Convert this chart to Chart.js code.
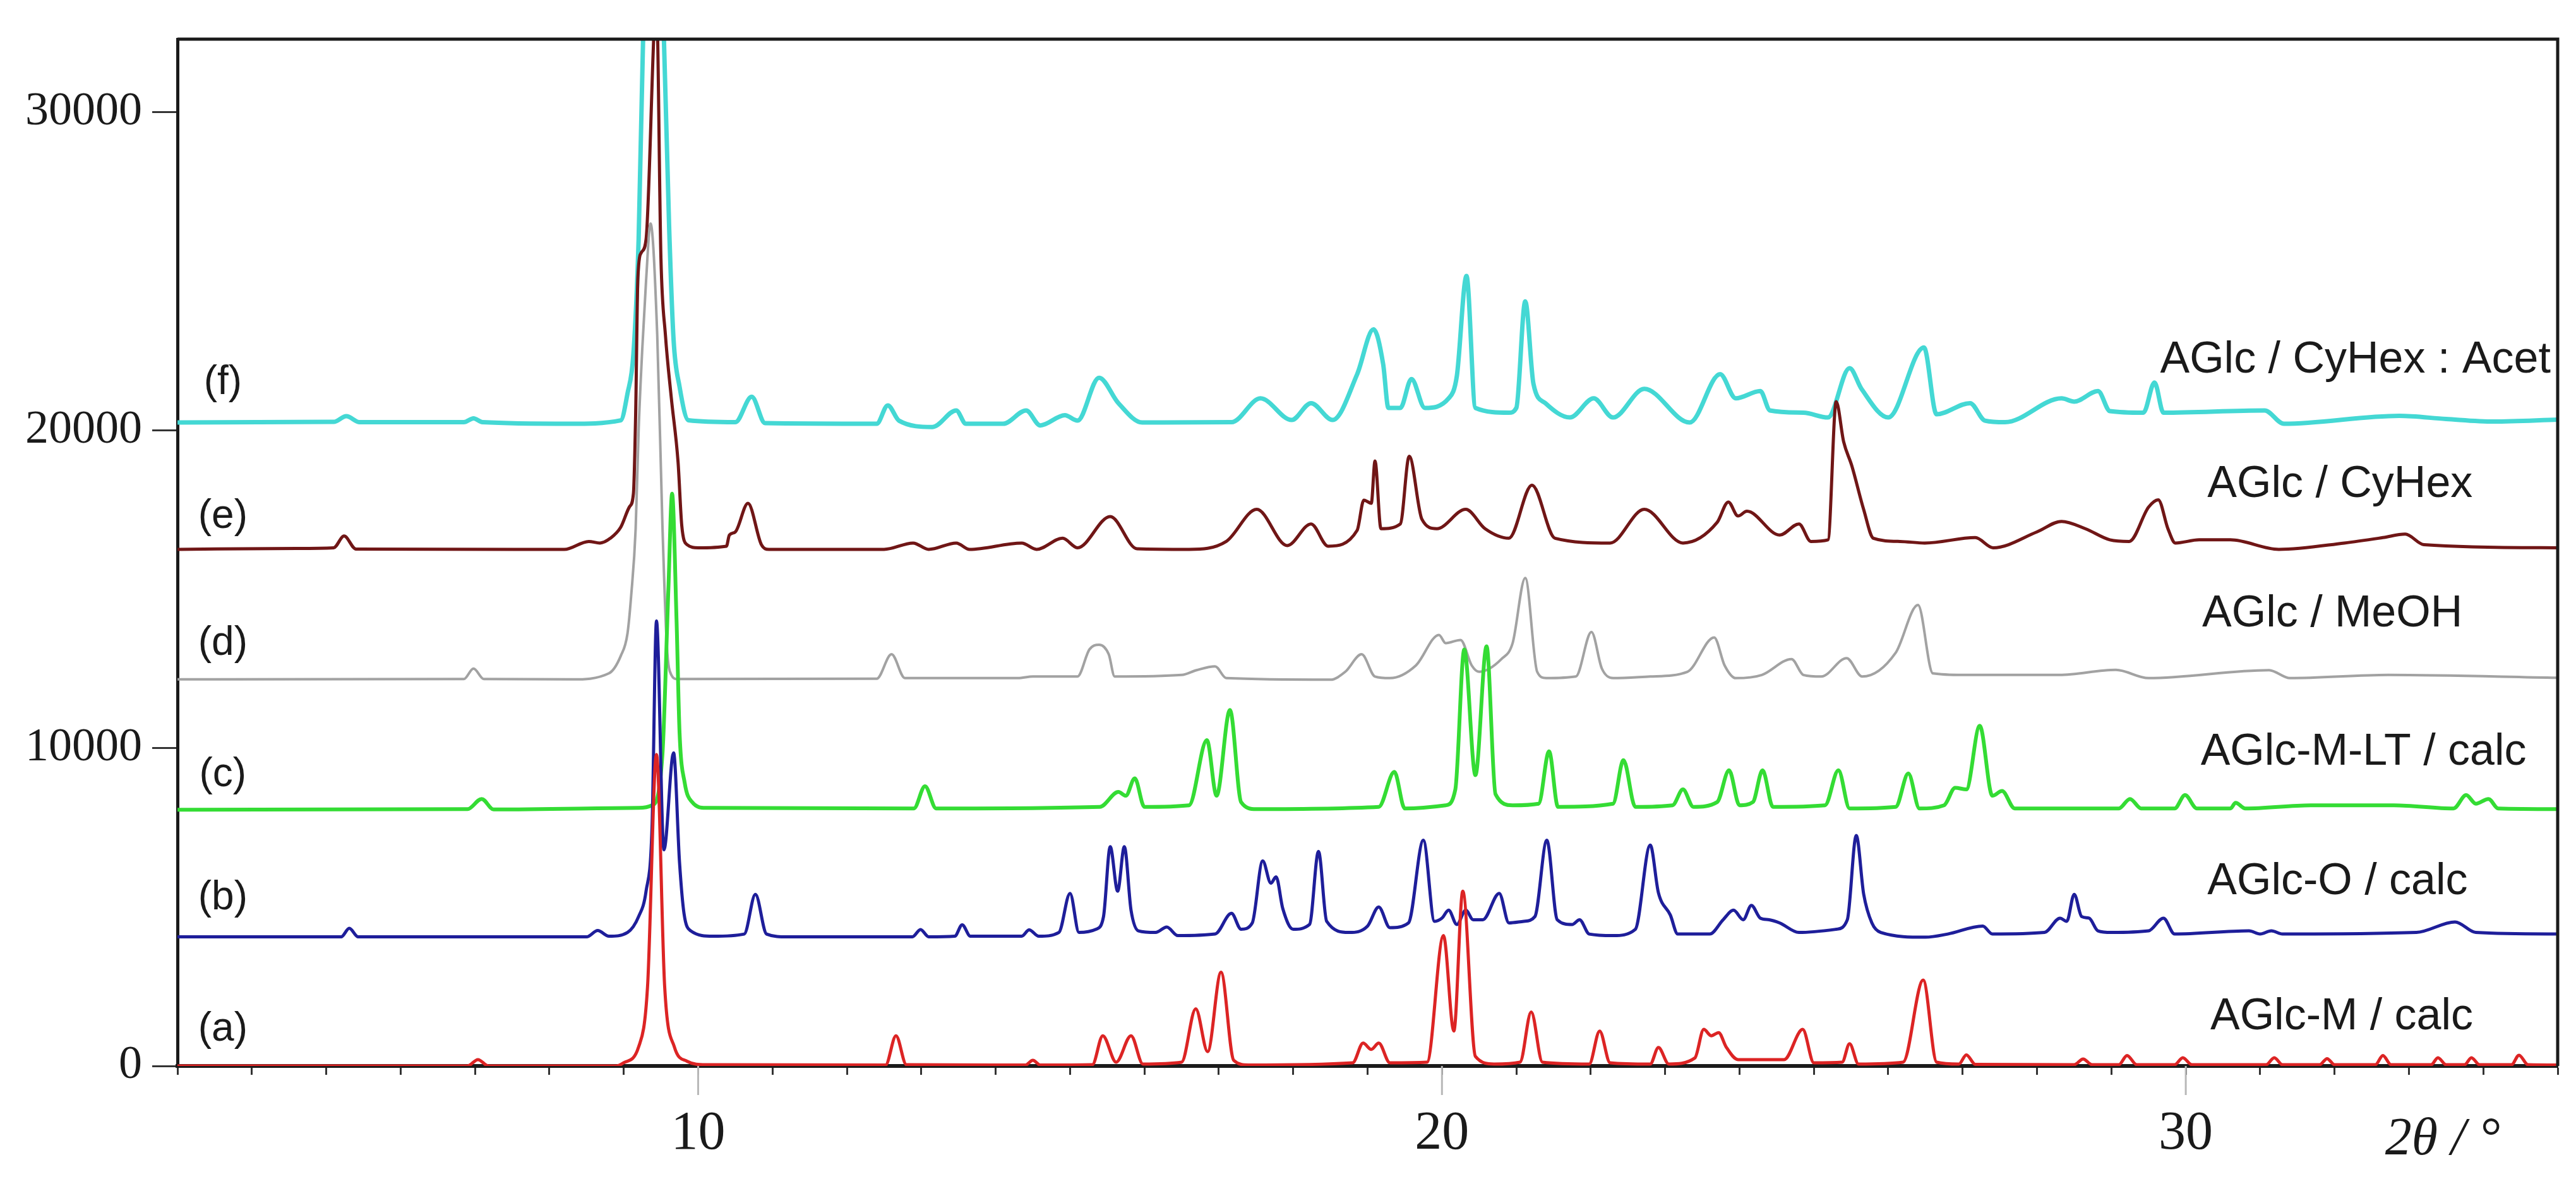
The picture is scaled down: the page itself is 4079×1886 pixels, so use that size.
<!DOCTYPE html>
<html>
<head>
<meta charset="utf-8">
<title>PXRD patterns</title>
<script src="https://cdn.jsdelivr.net/npm/chart.js@4.4.1/dist/chart.umd.min.js"></script>
<style>
  html, body { margin: 0; padding: 0; background: #fff; }
  #wrap { width: 4079px; height: 1886px; }
</style>
</head>
<body>
<div id="wrap"><canvas id="chart" width="4079" height="1886"></canvas></div>
<script>
// --- Data: [2theta, intensity] ---

// (a) AGlc-M / calc
const AGLC_M = [
  [3,0],[6.9,0],[7.04,200],[7.18,0],[8.9,0],[9.0,100],[9.2,600],[9.32,2500],[9.44,9800],[9.55,2500],
  [9.68,600],[9.85,150],[10.1,40],[12.52,30],[12.66,950],[12.8,40],[14.4,30],[14.5,180],[14.6,30],
  [15.3,40],[15.44,950],[15.62,120],[15.82,950],[15.98,60],[16.5,120],[16.69,1800],[16.85,450],
  [17.03,2950],[17.2,180],[17.4,30],[18.8,100],[18.94,720],[19.05,520],[19.15,720],[19.3,100],
  [19.8,120],[20.02,4100],[20.16,1100],[20.28,5500],[20.45,300],[20.7,60],[21.05,120],[21.2,1700],
  [21.35,120],[21.98,60],[22.12,1100],[22.26,100],[22.8,60],[22.91,580],[23.05,60],[23.4,250],
  [23.52,1150],[23.62,950],[23.72,1050],[23.82,600],[23.98,200],[24.6,200],[24.85,1150],[25.0,100],
  [25.38,120],[25.48,700],[25.6,60],[26.2,120],[26.47,2700],[26.65,120],[26.95,60],[27.05,350],
  [27.17,50],[28.5,40],[28.62,220],[28.74,40],[29.1,40],[29.21,330],[29.34,40],[29.85,40],[29.96,260],
  [30.08,40],[31.08,40],[31.19,260],[31.3,40],[31.8,40],[31.9,230],[32.0,40],[32.55,40],[32.65,330],
  [32.76,40],[33.3,40],[33.39,260],[33.5,40],[33.75,40],[33.84,260],[33.95,40],[34.38,40],[34.48,340],
  [34.6,40],[35,30]
];

// (b) AGlc-O / calc
const AGLC_O = [
  [3,4060],[5.2,4060],[5.31,4330],[5.43,4060],[8.5,4060],[8.65,4260],[8.8,4080],[9.05,4200],[9.2,4700],
  [9.3,5500],[9.38,7500],[9.44,14000],[9.54,6800],[9.67,9850],[9.75,6400],[9.81,4800],[9.9,4250],
  [10.2,4080],[10.62,4150],[10.77,5400],[10.92,4150],[11.2,4060],[12.88,4060],[12.99,4290],[13.1,4060],
  [13.45,4080],[13.55,4440],[13.66,4080],[14.35,4080],[14.45,4280],[14.58,4080],[14.85,4200],[15.0,5430],
  [15.12,4200],[15.35,4300],[15.45,4700],[15.54,6900],[15.64,5500],[15.73,6900],[15.82,4900],[15.92,4250],
  [16.15,4200],[16.3,4370],[16.45,4100],[16.95,4150],[17.17,4800],[17.3,4300],[17.45,4500],[17.59,6450],
  [17.7,5750],[17.77,5950],[17.86,4950],[18.0,4300],[18.22,4450],[18.34,6750],[18.45,4550],[18.75,4200],
  [19.0,4400],[19.15,5000],[19.3,4350],[19.55,4500],[19.75,7100],[19.9,4550],[20.0,4650],[20.09,4900],
  [20.2,4450],[20.32,4900],[20.42,4600],[20.55,4600],[20.77,5430],[20.9,4500],[21.1,4550],[21.25,4700],
  [21.41,7100],[21.55,4600],[21.75,4450],[21.85,4600],[21.98,4150],[22.3,4100],[22.6,4300],[22.8,6950],
  [22.91,5450],[23.07,4750],[23.17,4150],[23.6,4150],[23.78,4600],[23.92,4900],[24.05,4600],[24.16,5050],
  [24.28,4650],[24.4,4600],[24.54,4500],[24.8,4200],[25.3,4300],[25.45,4600],[25.57,7250],[25.67,5400],
  [25.78,4500],[25.9,4200],[26.5,4050],[26.8,4150],[27.27,4400],[27.4,4150],[28.1,4200],[28.31,4650],
  [28.4,4550],[28.5,5400],[28.6,4700],[28.7,4650],[28.82,4250],[29.0,4200],[29.5,4250],[29.7,4650],
  [29.85,4150],[30.85,4250],[31.0,4150],[31.15,4250],[31.3,4150],[33.1,4200],[33.62,4530],[33.9,4200],
  [35,4150]
];

// (c) AGlc-M-LT / calc
const AGLC_M_LT = [
  [3,8060],[6.9,8080],[7.09,8400],[7.25,8070],[9.2,8120],[9.38,8200],[9.52,9800],[9.6,15000],[9.65,18000],
  [9.71,14000],[9.75,10500],[9.82,8900],[9.92,8300],[10.1,8120],[12.9,8100],[13.05,8800],[13.2,8100],
  [15.4,8150],[15.65,8620],[15.75,8500],[15.87,9050],[16.0,8150],[16.6,8200],[16.84,10250],[16.97,8500],
  [17.15,11200],[17.3,8300],[17.5,8080],[19.15,8150],[19.36,9250],[19.5,8100],[20.05,8200],[20.18,8700],
  [20.3,13100],[20.45,9150],[20.6,13200],[20.72,8550],[20.95,8200],[21.3,8250],[21.44,9900],[21.56,8150],
  [22.3,8250],[22.44,9620],[22.6,8150],[23.1,8200],[23.24,8700],[23.38,8150],[23.7,8300],[23.86,9300],
  [24.0,8200],[24.18,8300],[24.31,9300],[24.45,8150],[25.15,8200],[25.33,9300],[25.48,8100],[26.1,8150],
  [26.27,9200],[26.42,8100],[26.75,8200],[26.9,8750],[27.05,8700],[27.23,10700],[27.4,8500],[27.53,8650],
  [27.7,8100],[29.1,8100],[29.25,8400],[29.4,8100],[29.85,8100],[29.99,8520],[30.15,8100],[30.6,8100],
  [30.67,8280],[30.8,8100],[31.68,8200],[32.8,8200],[33.6,8100],[33.77,8520],[33.9,8250],[34.07,8400],
  [34.2,8100],[35,8080]
];

// (d) AGlc / MeOH
const AGLC_MEOH = [
  [3,12160],[6.85,12170],[6.98,12500],[7.12,12170],[8.3,12160],[8.8,12350],[8.96,12900],[9.05,13600],
  [9.1,14800],[9.16,16900],[9.2,20000],[9.25,22600],[9.3,24700],[9.36,26500],[9.45,23000],[9.52,17000],
  [9.58,13200],[9.64,12300],[9.72,12170],[12.4,12180],[12.6,12950],[12.78,12200],[14.3,12200],[14.5,12250],
  [15.1,12250],[15.26,13100],[15.39,13250],[15.52,12950],[15.6,12250],[16.5,12300],[16.7,12450],
  [16.95,12570],[17.1,12200],[18.5,12150],[18.7,12400],[18.92,12950],[19.1,12250],[19.3,12200],
  [19.65,12600],[19.96,13560],[20.05,13300],[20.25,13400],[20.4,12600],[20.5,12400],[20.8,12800],
  [20.95,13300],[21.12,15350],[21.28,12400],[21.4,12200],[21.8,12250],[22.01,13650],[22.15,12500],
  [22.3,12200],[22.8,12250],[23.3,12400],[23.66,13480],[23.8,12600],[23.95,12200],[24.3,12300],
  [24.7,12800],[24.86,12300],[25.1,12250],[25.44,12830],[25.65,12250],[26.1,13000],[26.4,14500],
  [26.6,12350],[27.0,12300],[28.3,12300],[29.06,12460],[29.5,12200],[31.12,12450],[31.4,12200],
  [32.72,12300],[35,12210]
];

// (e) AGlc / CyHex
const AGLC_CYHEX = [
  [3,16250],[4.6,16280],[5.1,16300],[5.24,16670],[5.4,16260],[8.2,16250],[8.53,16500],[8.68,16450],
  [8.82,16600],[8.96,16950],[9.08,17600],[9.13,18000],[9.16,20500],[9.19,24800],[9.24,25600],[9.3,26000],
  [9.44,33500],[9.5,25400],[9.56,23000],[9.64,21000],[9.73,19000],[9.78,17000],[9.85,16400],[10.0,16300],
  [10.38,16350],[10.42,16700],[10.5,16800],[10.67,17700],[10.85,16400],[10.95,16250],[12.5,16250],
  [12.89,16450],[13.1,16250],[13.47,16450],[13.65,16250],[14.35,16450],[14.55,16250],[14.9,16600],
  [15.1,16300],[15.54,17280],[15.9,16270],[16.6,16250],[17.1,16500],[17.51,17510],[17.92,16370],
  [18.24,17050],[18.47,16350],[18.86,16850],[18.95,17800],[19.05,17700],[19.1,19030],[19.18,16900],
  [19.44,17050],[19.56,19180],[19.73,17200],[19.93,16900],[20.32,17510],[20.58,16900],[20.9,16600],
  [21.21,18270],[21.52,16600],[22.26,16450],[22.72,17510],[23.24,16450],[23.7,17100],[23.85,17740],
  [23.98,17300],[24.1,17450],[24.54,16700],[24.8,17050],[24.96,16500],[25.19,16550],[25.3,20900],
  [25.4,19640],[25.51,18880],[25.67,17500],[25.8,16600],[26.16,16500],[26.49,16450],[27.17,16620],
  [27.41,16300],[28.0,16800],[28.33,17130],[28.65,16900],[28.98,16550],[29.24,16500],[29.5,17580],
  [29.63,17810],[29.76,16900],[29.86,16450],[30.18,16550],[30.6,16550],[31.25,16250],[32.13,16450],
  [32.65,16620],[32.95,16730],[33.2,16400],[35,16300]
];

// (f) AGlc / CyHex : Acet
const AGLC_CYHEX_ACET = [
  [3,20240],[5.1,20260],[5.27,20440],[5.45,20250],[6.85,20250],[6.98,20370],[7.1,20250],[8.27,20200],
  [8.96,20310],[9.05,21150],[9.13,22400],[9.2,26000],[9.26,32300],[9.4,40000],[9.54,32300],[9.61,26400],
  [9.67,22840],[9.75,21370],[9.87,20310],[10.5,20250],[10.72,21050],[10.9,20220],[12.4,20200],[12.55,20780],
  [12.7,20300],[13.15,20100],[13.47,20620],[13.6,20200],[14.1,20200],[14.41,20620],[14.6,20150],
  [14.93,20470],[15.1,20300],[15.39,21650],[15.65,20850],[15.97,20240],[17.17,20250],[17.56,21000],
  [17.98,20320],[18.24,20850],[18.53,20320],[18.86,21760],[19.08,23170],[19.21,22070],[19.28,20700],
  [19.44,20700],[19.59,21610],[19.77,20700],[20.09,21000],[20.2,21700],[20.33,24850],[20.45,20700],
  [20.9,20550],[21.0,20700],[21.12,24050],[21.23,21460],[21.39,20850],[21.72,20400],[22.04,21000],
  [22.3,20400],[22.72,21300],[23.33,20240],[23.74,21760],[23.95,21000],[24.28,21230],[24.41,20620],
  [24.86,20550],[25.19,20400],[25.48,21950],[25.64,21300],[26.0,20400],[26.48,22600],[26.65,20500],
  [27.1,20850],[27.3,20300],[27.57,20250],[28.33,21000],[28.5,20900],[28.82,21230],[28.98,20600],
  [29.43,20550],[29.58,21500],[29.7,20550],[31.06,20620],[31.32,20200],[32.87,20450],[33.5,20350],
  [34.14,20270],[35,20330]
];

const SERIES = [AGLC_M, AGLC_O, AGLC_M_LT, AGLC_MEOH, AGLC_CYHEX, AGLC_CYHEX_ACET];
const SERIES_TAGS = ['(a)', '(b)', '(c)', '(d)', '(e)', '(f)'];
const SERIES_NAMES = ['AGlc-M / calc', 'AGlc-O / calc', 'AGlc-M-LT / calc', 'AGlc / MeOH', 'AGlc / CyHex', 'AGlc / CyHex : Acet'];

const Y_TICKS = [0, 10000, 20000, 30000];
const X_LABELS = [10, 20, 30];
const X_MIN = 3, X_MAX = 35, Y_MIN = 0, Y_MAX = 32300;

// --- Styles ---

const COLORS = ['#dc2424', '#1e1e9a', '#34dc34', '#a2a2a2', '#701616', '#44d8d4'];
const WIDTHS = [5, 5, 6, 4, 5, 7];

// label anchors in data units (2theta, intensity)
const TAG_POS = [[3.61, 1150], [3.61, 5280], [3.61, 9150], [3.61, 13280], [3.61, 17270], [3.61, 21480]];
const NAME_POS = [[30.33, 1530], [30.29, 5780], [30.2, 9850], [30.22, 14215], [30.29, 18285], [29.655, 22200]];

// --- Plugin: frame, long major ticks, x labels, series labels ---

const decorations = {
  id: 'decorations',
  afterDraw(chart) {
    const { ctx, chartArea: ca, scales: { x, y } } = chart;
    ctx.save();

    // top + right of the box
    ctx.strokeStyle = '#1a1a1a';
    ctx.lineWidth = 5;
    ctx.beginPath();
    ctx.moveTo(ca.left, ca.top);
    ctx.lineTo(ca.right, ca.top);
    ctx.lineTo(ca.right, ca.bottom);
    ctx.stroke();

    // faint long ticks at the labelled values
    ctx.strokeStyle = '#b8b8b8';
    ctx.lineWidth = 3;
    for (const v of X_LABELS) {
      const px = x.getPixelForValue(v);
      ctx.beginPath();
      ctx.moveTo(px, ca.bottom);
      ctx.lineTo(px, ca.bottom + 46);
      ctx.stroke();
    }

    ctx.fillStyle = '#1a1a1a';
    ctx.textBaseline = 'middle';

    // x tick labels
    ctx.font = '86px "Liberation Serif"';
    ctx.textAlign = 'center';
    for (const v of X_LABELS) {
      ctx.fillText(String(v), x.getPixelForValue(v), ca.bottom + 108);
    }

    ctx.font = '64px "Liberation Sans"';
    SERIES_TAGS.forEach((t, i) => {
      ctx.fillText(t, x.getPixelForValue(TAG_POS[i][0]), y.getPixelForValue(TAG_POS[i][1]));
    });

    ctx.font = '70px "Liberation Sans"';
    ctx.textAlign = 'left';
    SERIES_NAMES.forEach((t, i) => {
      ctx.fillText(t, x.getPixelForValue(NAME_POS[i][0]), y.getPixelForValue(NAME_POS[i][1]));
    });

    // axis title, same row as the tick labels
    ctx.font = 'italic 84px "Liberation Serif"';
    ctx.fillText('2\u03b8 / \u00b0', x.getPixelForValue(32.68), ca.bottom + 118);

    ctx.restore();
  }
};

// --- Chart ---

const datasets = SERIES.map((s, i) => ({
  label: SERIES_NAMES[i],
  data: s.map(p => ({ x: p[0], y: p[1] })),
  borderColor: COLORS[i],
  backgroundColor: COLORS[i],
  borderWidth: WIDTHS[i],
  pointRadius: 0,
  showLine: true,
  fill: false,
  cubicInterpolationMode: 'monotone',
  borderJoinStyle: 'round'
}));

new Chart(document.getElementById('chart'), {
  type: 'scatter',
  data: { datasets },
  options: {
    responsive: false,
    animation: false,
    devicePixelRatio: 1,
    layout: { padding: { top: 62, right: 29, bottom: 0, left: 0 } },
    plugins: { legend: { display: false }, tooltip: { enabled: false } },
    scales: {
      x: {
        type: 'linear', min: X_MIN, max: X_MAX,
        afterFit: s => { s.height = 198; },
        afterBuildTicks: s => {
          const t = [];
          for (let v = X_MIN; v <= X_MAX; v++) t.push({ value: v });
          s.ticks = t;
        },
        ticks: { display: false },
        grid: { drawOnChartArea: false, drawTicks: true, tickLength: 14, tickWidth: 3, tickColor: '#333' },
        border: { display: true, color: '#1a1a1a', width: 6 }
      },
      y: {
        type: 'linear', min: Y_MIN, max: Y_MAX,
        afterFit: s => { s.width = 281; },
        afterBuildTicks: s => { s.ticks = Y_TICKS.map(v => ({ value: v })); },
        ticks: {
          padding: 16,
          color: '#1a1a1a',
          font: { family: '"Liberation Serif"', size: 74 },
          callback: v => String(v)
        },
        grid: { drawOnChartArea: false, drawTicks: true, tickLength: 40, tickWidth: 3, tickColor: '#333' },
        border: { display: true, color: '#1a1a1a', width: 5 }
      }
    }
  },
  plugins: [decorations]
});
</script>
</body>
</html>
